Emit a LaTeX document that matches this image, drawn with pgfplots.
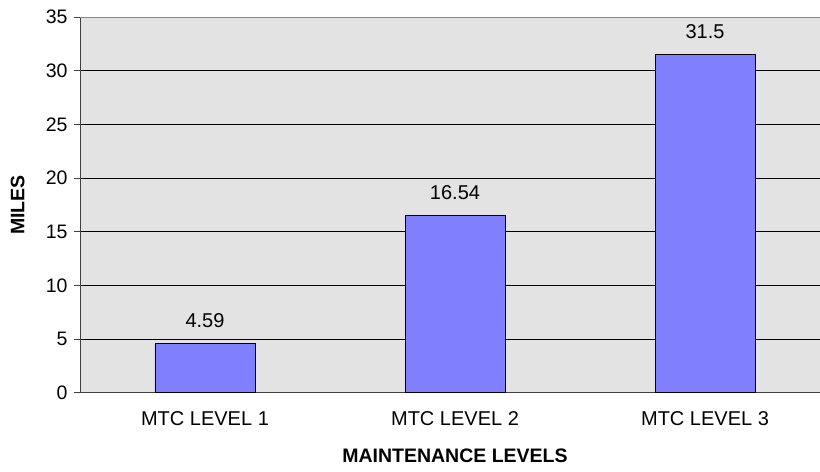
\documentclass[border=0pt]{standalone}
\usepackage{pgfplots}
\pgfplotsset{compat=1.18}
\usepackage{fontspec}
\setmainfont{Liberation Sans}
\definecolor{bgc}{HTML}{E3E3E3}
\definecolor{barc}{HTML}{8080FF}
\definecolor{axc}{HTML}{404040}
\definecolor{frc}{HTML}{888888}
\begin{document}
\begin{tikzpicture}
\path[use as bounding box] (-80bp,-79.3bp) rectangle (740bp,392.7bp);
\clip (-80bp,-79.3bp) rectangle (740bp,392.7bp);
\begin{axis}[
  at={(0,0)}, anchor=south west,
  scale only axis, width=750bp, height=375.5bp,
  xmin=-0.5, xmax=2.5, ymin=0, ymax=35,
  axis x line*=bottom, axis y line*=left,
  axis line style={draw=axc, line width=0.8bp, -},
  axis background/.style={fill=bgc},
  ytick={0,5,...,35},
  ymajorgrids, grid style={black, line width=0.7bp},
  xtick={0,1,2},
  xticklabels={MTC LEVEL 1, MTC LEVEL 2, MTC LEVEL 3},
  extra x ticks={-0.5,0.5,1.5},
  extra x tick labels={},
  extra x tick style={grid=none, major tick length=6bp, tick style={draw=axc, line width=0.8bp}},
  tick align=outside,
  major tick length=6bp,
  tick style={draw=axc, line width=0.8bp},
  x tick style={draw=none},
  ticklabel style={font=\fontsize{19.5bp}{22bp}\selectfont},
  xticklabel style={font=\fontsize{20bp}{22bp}\selectfont, yshift=-9bp},
  /pgf/number format/assume math mode=true,
  yticklabel style={xshift=-3bp},
  xlabel={MAINTENANCE LEVELS},
  ylabel={MILES},
  label style={font=\fontsize{19.5bp}{22bp}\selectfont\bfseries},
  xlabel style={at={(axis description cs:0.5,-0.168)}, anchor=center},
  ylabel style={at={(axis description cs:-0.083,0.5)}, anchor=center},
  nodes near coords,
  nodes near coords style={font=\fontsize{20bp}{22bp}\selectfont, yshift=12bp},
  point meta=explicit symbolic,
]
\addplot[ybar, bar width=100bp, fill=barc, draw=black, line width=0.8bp]
  coordinates {(0,4.59) [4.59] (1,16.54) [16.54] (2,31.5) [31.5]};
\draw[frc, line width=0.8bp] (rel axis cs:0,1) -- (rel axis cs:1,1) -- (rel axis cs:1,0);
\end{axis}
\end{tikzpicture}
\end{document}
